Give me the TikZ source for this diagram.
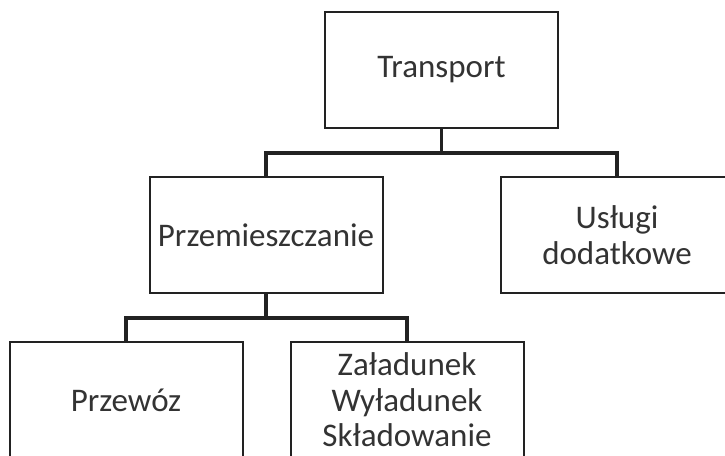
\documentclass[tikz,border=0pt]{standalone}
\usepackage{fontspec}
\setmainfont{Carlito}
\definecolor{boxline}{HTML}{222222}
\definecolor{txt}{HTML}{333333}
\begin{document}
\begin{tikzpicture}[x=1pt,y=-1pt,
  box/.style={draw=boxline, line width=2pt, minimum width=233pt, minimum height=116pt,
    inner sep=0pt, align=center, text=txt, font=\fontsize{33}{35.5}\selectfont},
  link/.style={draw=boxline, line width=3.5pt}]
\useasboundingbox (0,0) rectangle (725,455);
\clip (0,0) rectangle (725,455);
\node[box] (T) at (441.5,69.5) {Transport};
\node[box] (P) at (266,235) {Przemieszczanie};
\node[box] (U) at (617,235) {Usługi\\dodatkowe};
\node[box] (W) at (126,400) {Przewóz};
\node[box] (Z) at (407,400) {Załadunek\\Wyładunek\\Składowanie};
\coordinate (j1) at (441.5,153);
\coordinate (j2) at (266,318);
\draw[link] (T.south) -- (j1);
\draw[link] (j1) -| (P.north);
\draw[link] (j1) -| (U.north);
\draw[link] (P.south) -- (j2);
\draw[link] (j2) -| (W.north);
\draw[link] (j2) -| (Z.north);
\end{tikzpicture}
\end{document}
